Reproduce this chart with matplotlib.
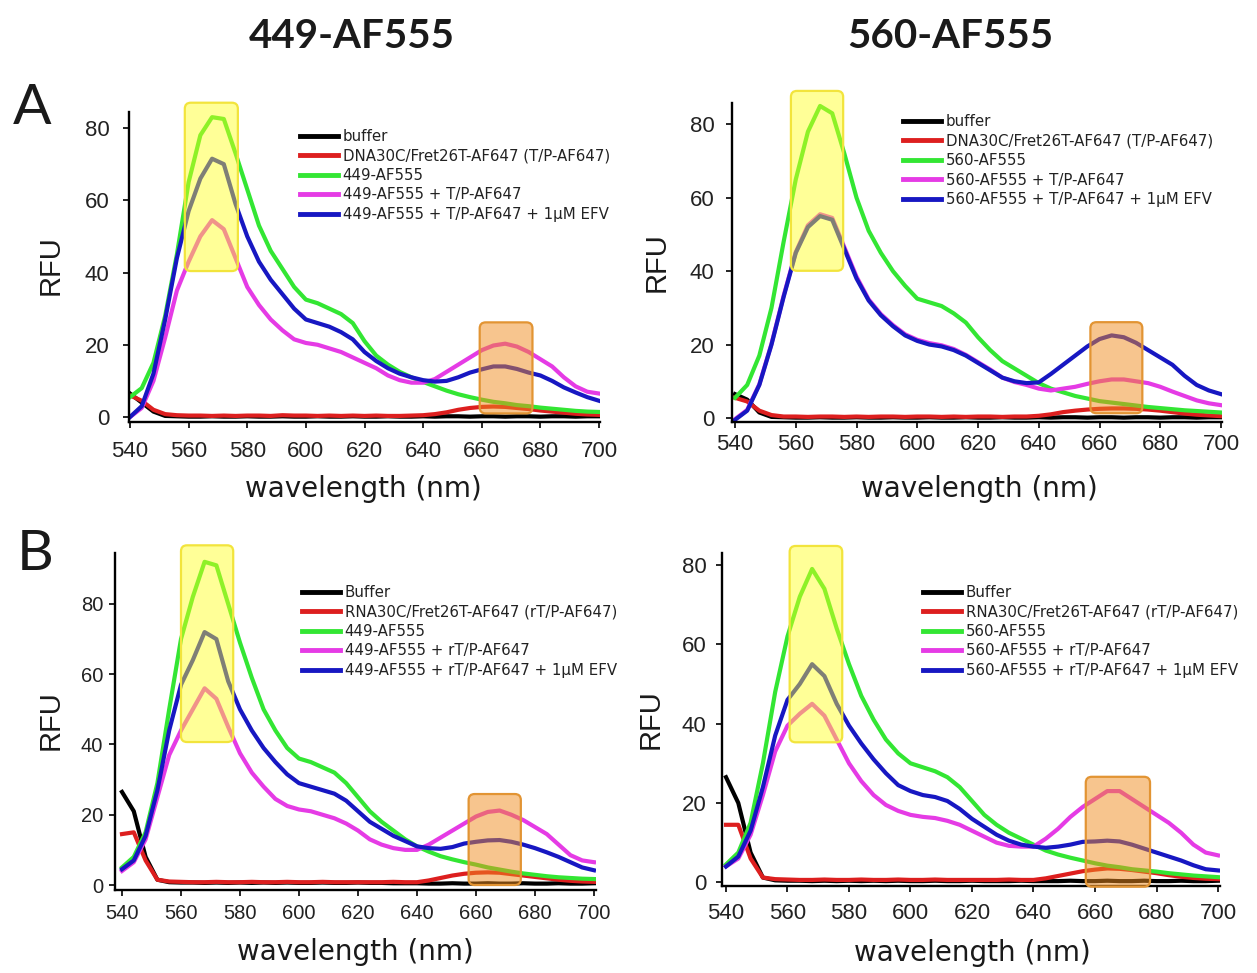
import matplotlib
matplotlib.use("Agg")
import matplotlib.pyplot as plt
from matplotlib import font_manager
from matplotlib.colors import to_rgba
from matplotlib.patches import FancyBboxPatch

W, H = 1257, 973

# emission spectra, read every 4 nm from 540 to 700 nm
wavelength = list(range(540, 701, 4))

# A, 449-AF555 with DNA template/primer
a449_buffer = [6.5, 4, 1.5, 0.3, 0.2, 0.1, 0.1, 0.2, 0.1, 0.1, 0.2, 0.1, 0.1, 0.2, 0.1,
               0.1, 0.2, 0.1, 0.1, 0.2, 0.1, 0.1, 0.2, 0.1, 0.1, 0.2, 0.1, 0.2, 0.2, 0.1,
               0.2, 0.2, 0.1, 0.2, 0.2, 0.1, 0.2, 0.2, 0.1, 0.2, 0.2]
a449_tp = [6, 4.5, 2, 0.8, 0.5, 0.4, 0.4, 0.3, 0.4, 0.3, 0.4, 0.4, 0.3, 0.5, 0.4,
           0.4, 0.3, 0.4, 0.3, 0.4, 0.3, 0.4, 0.3, 0.3, 0.4, 0.5, 0.8, 1.3, 2.0, 2.5,
           2.8, 2.9, 2.8, 2.5, 2.2, 1.8, 1.5, 1.2, 0.9, 0.7, 0.6]
a449_rt = [5.5, 8, 15, 28, 45, 65, 78, 83, 82.5, 73, 63, 53, 46, 41, 36,
           32.5, 31.5, 30, 28.5, 26, 21, 17, 14.5, 12.5, 11, 9.7, 8.5, 7.3, 6.3, 5.5,
           4.8, 4.2, 3.8, 3.3, 3.0, 2.6, 2.3, 2.0, 1.7, 1.5, 1.4]
a449_rt_tp = [0, 2.5, 10, 22, 35, 43, 50, 54.5, 52, 44, 36, 31, 27, 24, 21.5,
              20.5, 20, 19, 18, 16.5, 15, 13.5, 11.5, 10.2, 9.5, 9.5, 10.5, 12.5, 14.5, 16.5,
              18.5, 19.8, 20.3, 19.5, 18, 16, 14, 11, 8.5, 7, 6.5]
a449_rt_tp_efv = [0, 3, 12, 27, 44, 57, 66, 71.5, 70, 59, 50, 43, 38, 34, 30,
                  27, 26, 25, 23.5, 21.5, 18, 15.5, 13.5, 12, 11, 10.2, 9.8, 10, 11, 12.3,
                  13.2, 14, 14, 13.3, 12.3, 11.5, 10, 8.2, 6.8, 5.5, 4.5]

# A, 560-AF555 with DNA template/primer
a560_buffer = [6.5, 5, 1.5, 0.3, 0.2, 0.1, 0.1, 0.2, 0.1, 0.1, 0.2, 0.1, 0.1, 0.2, 0.1,
               0.1, 0.2, 0.1, 0.1, 0.2, 0.1, 0.1, 0.2, 0.1, 0.1, 0.2, 0.1, 0.2, 0.2, 0.1,
               0.2, 0.2, 0.1, 0.2, 0.2, 0.1, 0.2, 0.2, 0.1, 0.2, 0.2]
a560_tp = [5.5, 4.5, 2, 0.8, 0.4, 0.4, 0.3, 0.4, 0.4, 0.3, 0.4, 0.3, 0.4, 0.4, 0.3,
           0.4, 0.4, 0.3, 0.4, 0.3, 0.4, 0.4, 0.3, 0.4, 0.4, 0.6, 1.0, 1.6, 2.0, 2.3,
           2.5, 2.6, 2.6, 2.5, 2.3, 2.0, 1.6, 1.2, 0.9, 0.7, 0.5]
a560_rt = [5.5, 9, 17, 30, 48, 65, 78, 85, 83, 72, 60, 51, 45, 40, 36,
           32.5, 31.5, 30.5, 28.5, 26, 22, 18.5, 15.5, 13.5, 11.5, 9.5, 8, 7, 6, 5.3,
           4.6, 4.2, 3.8, 3.4, 3.0, 2.7, 2.4, 2.1, 1.9, 1.7, 1.5]
a560_rt_tp = [-0.3, 2.2, 9.2, 20.2, 33.3, 45.2, 52.5, 55.5, 54.5, 46.5, 38.5, 32.3, 28.3, 25.3, 22.8,
              21.3, 20.4, 19.8, 18.8, 17.2, 15.2, 13.2, 11, 9.8, 9, 8, 7.5, 8, 8.5, 9.3,
              10, 10.5, 10.5, 10, 9.5, 8.5, 7.2, 6, 4.8, 4, 3.5]
a560_rt_tp_efv = [-0.5, 2, 9, 20, 33, 45, 52, 55, 54, 46, 38, 32, 28, 25, 22.5,
                  21, 20, 19.5, 18.5, 17, 15, 13, 11, 10, 9.5, 9.7, 12, 14.5, 17, 19.5,
                  21.5, 22.5, 22, 20.5, 18.5, 16.5, 14.5, 11.5, 9, 7.5, 6.5]

# B, 449-AF555 with RNA template/primer
b449_buffer = [26.5, 21, 8, 1.5, 0.8, 0.7, 0.7, 0.6, 0.7, 0.6, 0.7, 0.6, 0.7, 0.6, 0.7,
               0.6, 0.6, 0.7, 0.6, 0.6, 0.7, 0.6, 0.6, 0.5, 0.5, 0.5, 0.4, 0.4, 0.5, 0.4,
               0.4, 0.5, 0.4, 0.4, 0.5, 0.4, 0.4, 0.5, 0.4, 0.4, 0.5]
b449_tp = [14.5, 15, 7, 1.5, 1.0, 0.9, 0.8, 0.8, 0.9, 0.8, 0.8, 0.9, 0.8, 0.8, 0.9,
           0.8, 0.8, 0.9, 0.8, 0.8, 0.8, 0.8, 0.8, 0.9, 0.8, 0.8, 1.3, 2.0, 2.7, 3.2,
           3.5, 3.6, 3.5, 3.1, 2.7, 2.3, 1.9, 1.5, 1.2, 1.0, 0.9]
b449_rt = [5, 8, 15, 29, 50, 70, 82, 92, 91, 80, 69, 59, 50, 44, 39,
           36, 35, 33.5, 32, 29, 25, 21, 18, 15.5, 13, 11, 9.5, 8.2, 7.3, 6.5,
           5.8, 5.0, 4.4, 3.8, 3.3, 2.9, 2.5, 2.2, 2.0, 1.8, 1.7]
b449_rt_tp = [4, 6.5, 13, 25, 37, 44, 50, 56, 53, 45, 37.5, 32, 28, 24.5, 22.5,
              21.5, 21, 20, 19, 17.5, 15.5, 13, 11.5, 10.5, 10, 10, 11.5, 13.5, 15.5, 17.5,
              19.5, 20.8, 21.2, 20, 18.5, 16.5, 14.5, 11.5, 8.5, 7, 6.5]
b449_rt_tp_efv = [4.5, 7, 14, 27, 44, 57, 64, 72, 70, 58, 50, 44, 39, 35, 31.5,
                  29, 28, 27, 26, 24, 21, 18, 16, 14, 12.5, 11, 10.5, 10.3, 10.8, 11.8,
                  12.3, 12.7, 12.8, 12.3, 11.5, 10.5, 9.3, 8, 6.5, 5, 4.2]

# B, 560-AF555 with RNA template/primer
b560_buffer = [26.5, 20, 7.5, 1.2, 0.5, 0.4, 0.4, 0.3, 0.4, 0.3, 0.4, 0.3, 0.4, 0.3, 0.4,
               0.3, 0.3, 0.4, 0.3, 0.3, 0.4, 0.3, 0.3, 0.3, 0.4, 0.3, 0.3, 0.3, 0.4, 0.3,
               0.3, 0.4, 0.3, 0.3, 0.4, 0.3, 0.3, 0.4, 0.3, 0.3, 0.4]
b560_tp = [14.5, 14.5, 6, 1.2, 0.8, 0.7, 0.6, 0.6, 0.7, 0.6, 0.6, 0.7, 0.6, 0.6, 0.7,
           0.6, 0.6, 0.7, 0.6, 0.6, 0.6, 0.6, 0.6, 0.7, 0.6, 0.6, 1.0, 1.6, 2.2, 2.8,
           3.2, 3.5, 3.4, 3.1, 2.7, 2.3, 1.8, 1.4, 1.1, 0.9, 0.8]
b560_rt = [4.5, 7.5, 15, 30, 48, 62, 72, 79, 74, 64, 55, 47, 41, 36, 32.5,
           30, 29, 28, 26.5, 24, 20.5, 17, 14.5, 12.5, 11, 9.5, 8, 7, 6.2, 5.5,
           4.8, 4.2, 3.8, 3.3, 3.0, 2.7, 2.3, 2.0, 1.7, 1.5, 1.3]
b560_rt_tp = [4, 6, 12, 22, 33, 39.5, 42.5, 45, 42, 36, 30, 25.5, 22, 19.5, 18,
              17, 16.5, 16.2, 15.5, 14.5, 13, 11.5, 10, 9.2, 9, 9, 11, 13.5, 16.5, 19,
              21, 23, 23, 21, 19, 17, 15, 12.5, 9.5, 7.5, 6.8]
b560_rt_tp_efv = [4, 6.5, 13, 24, 37, 46, 50, 55, 52, 45, 39.5, 35, 31, 27.5, 24.5,
                  23, 22, 21.5, 20.5, 18.5, 16, 14, 12, 10.5, 9.5, 9, 8.7, 9, 9.5, 10.2,
                  10.3, 10.5, 10.3, 9.5, 8.5, 7.5, 6.5, 5.5, 4.3, 3.3, 3.0]

labels_a449 = ["buffer", "DNA30C/Fret26T-AF647 (T/P-AF647)", "449-AF555",
               "449-AF555 + T/P-AF647", "449-AF555 + T/P-AF647 + 1\u03bcM EFV"]
labels_a560 = ["buffer", "DNA30C/Fret26T-AF647 (T/P-AF647)", "560-AF555",
               "560-AF555 + T/P-AF647", "560-AF555 + T/P-AF647 + 1\u03bcM EFV"]
labels_b449 = ["Buffer", "RNA30C/Fret26T-AF647 (rT/P-AF647)", "449-AF555",
               "449-AF555 + rT/P-AF647", "449-AF555 + rT/P-AF647 + 1\u03bcM EFV"]
labels_b560 = ["Buffer", "RNA30C/Fret26T-AF647 (rT/P-AF647)", "560-AF555",
               "560-AF555 + rT/P-AF647", "560-AF555 + rT/P-AF647 + 1\u03bcM EFV"]

colors = ["#000000", "#dd1f1f", "#33e633", "#e53be5", "#1717c2"]

names = {f.name for f in font_manager.fontManager.ttflist}
tick_family = "Liberation Sans Narrow" if "Liberation Sans Narrow" in names else "Liberation Sans"

plt.rcParams["font.family"] = ["Liberation Sans", "DejaVu Sans"]

fig = plt.figure(figsize=(W / 100, H / 100), dpi=100)


def add_box(ax, box_px, x0, x1, y0, y1, face, edge, alpha):
    """Rounded highlight rectangle, drawn over the curves."""
    l, r, t, b = box_px
    xl, yl = ax.get_xlim(), ax.get_ylim()
    x_per_px = (xl[1] - xl[0]) / (r - l)
    y_per_px = (yl[1] - yl[0]) / (b - t)
    patch = FancyBboxPatch((x0, y0), x1 - x0, y1 - y0,
                           boxstyle="round,pad=0,rounding_size=%f" % (6 * x_per_px),
                           mutation_aspect=y_per_px / x_per_px,
                           facecolor=to_rgba(face, alpha), edgecolor=edge,
                           linewidth=1.6, zorder=3, clip_on=False)
    ax.add_patch(patch)


def draw_panel(box_px, xlim, ylim, series, labels, boxes, legend_xy, tick_size, ypad, xpad):
    l, r, t, b = box_px
    ax = fig.add_axes([l / W, 1 - b / H, (r - l) / W, (b - t) / H])
    for values, label, color in zip(series, labels, colors):
        ax.plot(wavelength, values, color=color, lw=3, label=label, zorder=2,
                solid_joinstyle="round")
    ax.set_xlim(*xlim)
    ax.set_ylim(*ylim)
    ax.set_xticks(range(540, 701, 20))
    ax.set_yticks([0, 20, 40, 60, 80])
    for side in ("top", "right"):
        ax.spines[side].set_visible(False)
    for side in ("left", "bottom"):
        ax.spines[side].set_linewidth(1.7)
    ax.tick_params(axis="both", direction="out", length=4, width=1.2,
                   labelsize=tick_size, labelcolor="#222222",
                   labelfontfamily=tick_family)
    ax.tick_params(axis="y", pad=ypad)
    ax.tick_params(axis="x", pad=xpad)
    for (x0, x1, y0, y1), (face, edge, alpha) in zip(boxes, [("#ffff1a", "#f2e43c", 0.45),
                                                             ("#f08c1e", "#e29433", 0.5)]):
        add_box(ax, box_px, x0, x1, y0, y1, face, edge, alpha)
    lx, ly = legend_xy
    ax.legend(loc="upper left", bbox_to_anchor=(lx / W, 1 - ly / H),
              bbox_transform=fig.transFigure, frameon=False, borderpad=0,
              borderaxespad=0, handlelength=2.5, handletextpad=0.35,
              labelspacing=0.3, prop={"family": "DejaVu Sans", "size": 10.8},
              labelcolor="#222222")
    for line in ax.get_legend().get_lines():
        line.set_linewidth(3.5)
    return ax


draw_panel((129, 600, 112, 422), (539.66, 700.34), (-1.38, 84.43),
           [a449_buffer, a449_tp, a449_rt, a449_rt_tp, a449_rt_tp_efv], labels_a449,
           [(558.7, 576.8, 40.4, 87.0), (659.3, 677.3, 1.0, 26.2)],
           (300, 129), 16, 10, 10)
draw_panel((732, 1222, 102.7, 422), (539.0, 700.33), (-1.09, 85.89),
           [a560_buffer, a560_tp, a560_rt, a560_rt_tp, a560_rt_tp_efv], labels_a560,
           [(558.4, 575.6, 40.1, 89.1), (657.0, 674.1, 1.3, 26.1)],
           (903, 114), 16, 8.5, 5)
draw_panel((115, 596, 552.7, 890), (537.63, 700.68), (-1.42, 94.6),
           [b449_buffer, b449_tp, b449_rt, b449_rt_tp, b449_rt_tp_efv], labels_b449,
           [(560.0, 577.7, 40.7, 96.7), (657.5, 675.2, 0.0, 25.9)],
           (302, 585), 14.5, 4.5, 6)
draw_panel((722, 1220, 552.7, 886), (538.7, 700.65), (-0.93, 83.1),
           [b560_buffer, b560_tp, b560_rt, b560_rt_tp, b560_rt_tp_efv], labels_b560,
           [(560.7, 577.8, 35.3, 84.8), (657.0, 677.9, -1.1, 26.6)],
           (923, 585), 16, 7, 8)


def fig_text(x, y, s, **kw):
    fig.text(x / W, 1 - y / H, s, ha="center", va="center", color="#1a1a1a", **kw)


fig_text(352, 37, "449-AF555", family="Lato", weight="bold", size=29)
fig_text(950, 37, "560-AF555", family="Lato", weight="bold", size=29)
fig_text(32, 109, "A", family="Lato", size=41)
fig_text(35, 555, "B", family="Lato", size=41)
for x, y in [(51, 265), (657, 262), (51, 720), (651, 719)]:
    fig_text(x, y, "RFU", size=21, rotation=90)
for x, y in [(363, 489), (979, 489), (355, 952), (972, 953)]:
    fig_text(x, y, "wavelength (nm)", family="DejaVu Sans", size=20)

fig.savefig("out.png", dpi=100)
